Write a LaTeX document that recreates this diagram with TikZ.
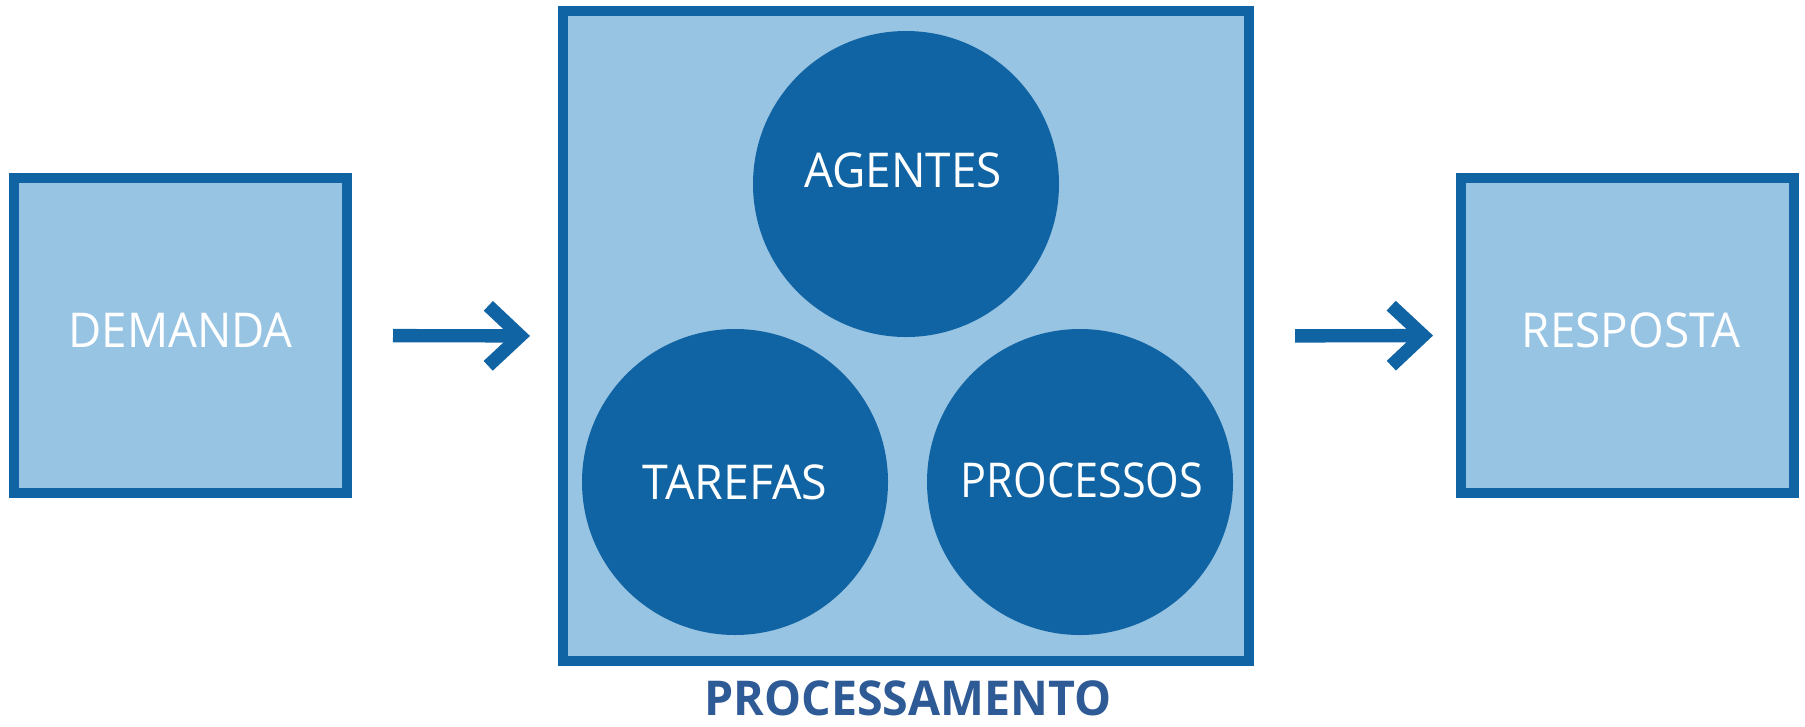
\documentclass[tikz,border=0pt]{standalone}
\usepackage{fontspec}
\setmainfont{Open Sans}
\usetikzlibrary{arrows.meta}
\definecolor{darkblue}{HTML}{1064A3}
\definecolor{lightblue}{HTML}{98C4E3}
\definecolor{titleblue}{HTML}{2E5A96}
\tikzset{
  box/.style={draw=darkblue, fill=lightblue, line width=7.5pt, rectangle, inner sep=0pt},
  disc/.style={fill=darkblue, circle, inner sep=0pt, minimum size=229.5pt},
  lbl/.style={text=white, font=\fontsize{36pt}{40pt}\selectfont, inner sep=0pt, anchor=base},
  flow/.style={draw=darkblue, line width=10pt,
    -{Straight Barb[length=24pt, width=45pt, line width=10pt]}},
}
\begin{document}
\begin{tikzpicture}[x=0.75pt, y=-0.75pt]
\useasboundingbox (0,0) rectangle (1805,726);
% boxes
\node[box, minimum width=249.75pt, minimum height=236.25pt] (demanda) at (180.5,335.5) {};
\node[box, minimum width=249.75pt, minimum height=236.25pt] (resposta) at (1627.5,335.5) {};
\node[box, minimum width=514.5pt, minimum height=487.5pt] (proc) at (906,336) {};
% circles
\node[disc] (agentes) at (906,184) {};
\node[disc] (tarefas) at (735,482) {};
\node[disc] (processos) at (1080,482) {};
% labels
\node[lbl] (tdemanda) at (180.5,347) {\scalebox{0.95}[1]{DEMANDA}};
\node[lbl] (tresposta) at (1631,347) {\scalebox{0.955}[1]{RESPOSTA}};
\node[lbl] (tagentes) at (903,187) {\scalebox{0.955}[1]{AGENTES}};
\node[lbl] (ttarefas) at (735,499) {\scalebox{0.97}[1]{TAREFAS}};
\node[lbl] (tprocessos) at (1082,497) {\scalebox{0.9}[1]{PROCESSOS}};
\node[text=titleblue, font=\bfseries\fontsize{36pt}{40pt}\selectfont, inner sep=0pt, anchor=base] (tproc) at (908,715) {\scalebox{0.97}[1]{PROCESSAMENTO}};
% arrows
\draw[flow, shorten <=30.75pt, shorten >=21pt] (demanda.east) -- (proc.west);
\draw[flow, shorten <=30.75pt, shorten >=17.25pt] (proc.east) -- (resposta.west);
\end{tikzpicture}
\end{document}
